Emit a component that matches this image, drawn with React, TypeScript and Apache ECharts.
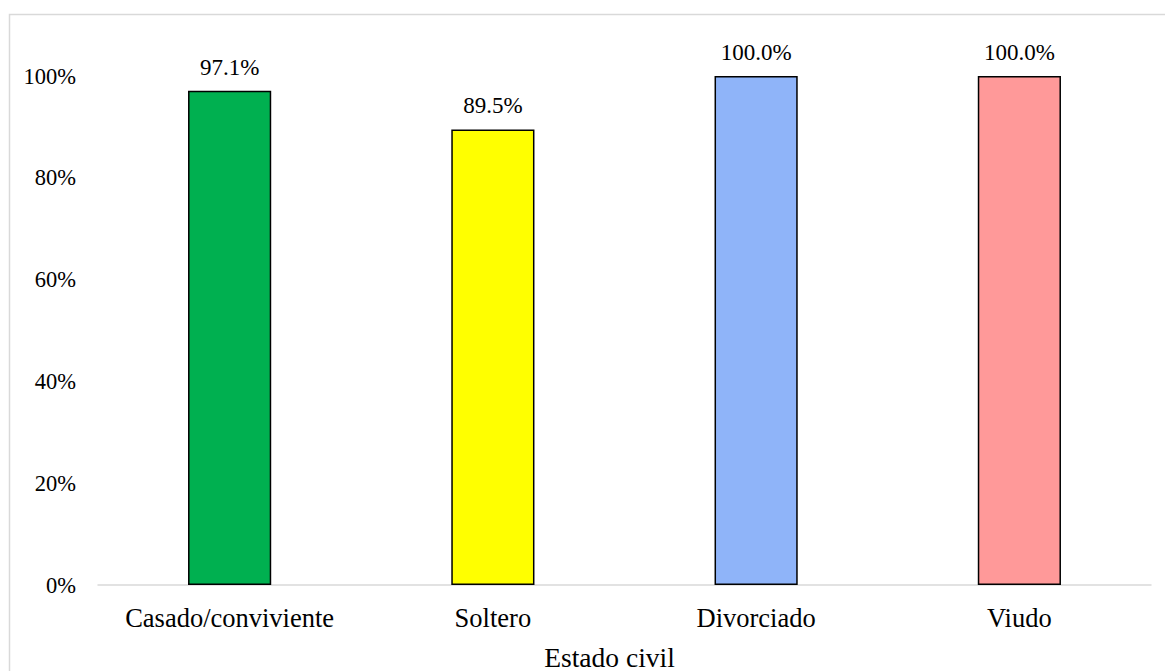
import React, { useEffect, useRef } from "react";
import * as echarts from "echarts";

const categories = ["Casado/conviviente", "Soltero", "Divorciado", "Viudo"];
const values = [0.971, 0.895, 1.0, 1.0];
const barColors = ["#00B050", "#FFFF00", "#8FB4F9", "#FF9999"];
const yTicks = [0, 0.2, 0.4, 0.6, 0.8, 1.0];
const axisTitle = "Estado civil";

export default function App() {
  const ref = useRef<HTMLDivElement>(null);
  useEffect(() => {
    if (!ref.current) return;
    const chart = echarts.init(ref.current, undefined, { renderer: "svg" });
    const font = "'Liberation Serif', 'Times New Roman', serif";
    chart.setOption({
      animation: false,
      backgroundColor: "#ffffff",
      textStyle: { fontFamily: font, color: "#000" },
      graphic: [
        {
          type: "rect",
          left: 7,
          top: 12,
          shape: { width: 1200, height: 700 },
          style: { fill: "none", stroke: "#d9d9d9", lineWidth: 1.5 },
          silent: true,
          z: -1,
        },
      ],
      grid: {
        left: 98,
        right: 14,
        top: 76,
        bottom: 86,
        containLabel: false,
        outerBoundsMode: "none",
      },
      xAxis: {
        type: "category",
        data: categories,
        name: axisTitle,
        nameLocation: "middle",
        nameGap: 85,
        nameTextStyle: {
          fontFamily: font,
          fontSize: 27.5,
          lineHeight: 26,
          color: "#000",
          verticalAlign: "bottom",
          padding: [0, 30, 0, 0],
        },
        axisLine: { show: true, lineStyle: { color: "#d9d9d9", width: 1.5 } },
        axisTick: { show: false },
        axisLabel: {
          interval: 0,
          hideOverlap: false,
          fontFamily: font,
          fontSize: 26.5,
          color: "#000",
          margin: 19,
        },
      },
      yAxis: {
        type: "value",
        min: 0,
        max: yTicks[yTicks.length - 1],
        interval: 0.2,
        axisLine: { show: false },
        axisTick: { show: false },
        splitLine: { show: false },
        axisLabel: {
          fontFamily: font,
          fontSize: 22.5,
          color: "#000",
          margin: 22,
          formatter: (v: number) => `${Math.round(v * 100)}%`,
        },
      },
      series: [
        {
          type: "bar",
          barWidth: "31.6%",
          data: values.map((v, i) => ({
            value: v,
            itemStyle: { color: barColors[i], borderColor: "#000", borderWidth: 1.5 },
          })),
          label: {
            show: true,
            position: "top",
            distance: 12,
            fontFamily: font,
            fontSize: 23,
            color: "#000",
            formatter: (p: any) => `${(p.value * 100).toFixed(1)}%`,
          },
        },
      ],
    });
    return () => chart.dispose();
  }, []);
  return (
    <div
      ref={ref}
      style={{ position: "absolute", left: 0, top: 0, width: 1165, height: 671 }}
    />
  );
}
